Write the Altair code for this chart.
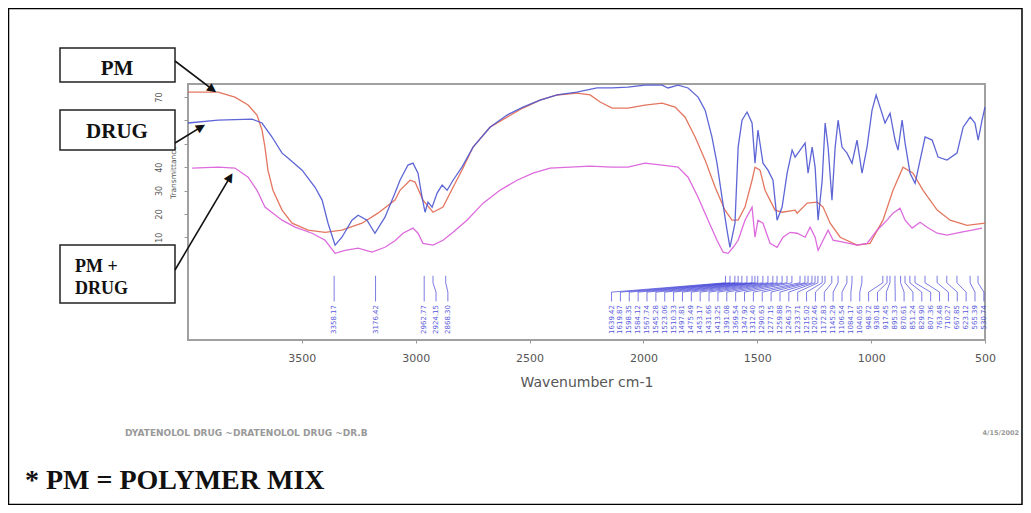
import math
import altair as alt
import numpy as np
import pandas as pd

# ---------------- spectra: wavenumber (cm-1) / transmittance (%) ----------------
pm_wn = [4000, 3868, 3794, 3736, 3697, 3675, 3662, 3649, 3627, 3587, 3543, 3473, 3398, 3324, 3236,
         3166, 3091, 3069, 3025, 3003, 2968, 2924, 2880, 2836, 2797, 2748, 2674, 2599, 2529, 2454,
         2379, 2292, 2234, 2190, 2138, 2068, 1993, 1918, 1861, 1817, 1773, 1729, 1685, 1642, 1611,
         1584, 1554, 1523, 1510, 1488, 1466, 1422, 1391, 1334, 1325, 1281, 1237, 1211, 1180, 1136,
         1062, 1005, 948, 904, 860, 816, 772, 710, 653, 579, 500]
pm_t = [72.1, 72.1, 70.0, 66.6, 62.3, 55.9, 48.6, 38.7, 30.1, 21.6, 16.0, 13.0, 12.1, 13.0, 16.0,
        20.3, 25.9, 30.1, 34.4, 33.6, 25.9, 20.7, 22.9, 31.4, 38.7, 48.6, 57.1, 61.4, 65.3, 68.7,
        70.9, 71.7, 70.9, 67.9, 65.3, 65.3, 66.6, 67.4, 65.7, 61.4, 52.9, 43.0, 31.4, 21.6, 17.3,
        17.3, 22.9, 34.4, 40.0, 38.7, 30.1, 21.6, 20.7, 21.6, 20.3, 24.6, 25.0, 22.9, 16.0, 10.0,
        6.6, 7.4, 17.3, 30.1, 40.0, 37.4, 30.1, 21.6, 17.3, 15.1, 16.0]

drug_wn = [4000, 3868, 3719, 3675, 3631, 3587, 3561, 3499, 3442, 3411, 3385, 3354, 3324, 3280, 3253,
           3214, 3179, 3135, 3091, 3069, 3034, 3012, 2990, 2972, 2959, 2946, 2928, 2906, 2884, 2862,
           2836, 2797, 2748, 2674, 2599, 2529, 2454, 2379, 2292, 2204, 2138, 2068, 1993, 1918, 1892,
           1848, 1804, 1760, 1729, 1699, 1677, 1655, 1633, 1620, 1598, 1584, 1567, 1545, 1523, 1510,
           1497, 1475, 1453, 1431, 1413, 1391, 1369, 1347, 1334, 1312, 1290, 1277, 1259, 1246, 1233,
           1215, 1202, 1189, 1172, 1158, 1145, 1128, 1106, 1084, 1062, 1040, 1018, 996, 978, 961,
           939, 917, 895, 882, 864, 851, 829, 807, 785, 763, 732, 706, 667, 623, 596,
           565, 544, 530, 513, 500]
drug_t = [58.9, 60.1, 60.6, 58.9, 52.9, 46.0, 43.9, 38.7, 31.4, 25.9, 16.0, 6.6, 10.0, 17.3, 19.4,
          17.3, 11.7, 18.6, 28.9, 34.4, 40.9, 41.7, 37.4, 27.1, 20.7, 25.0, 22.9, 28.9, 32.3, 30.1,
          34.4, 40.0, 48.6, 57.1, 62.3, 65.7, 68.7, 70.9, 72.1, 73.9, 73.9, 74.3, 75.1, 75.1, 73.9,
          75.1, 73.9, 70.0, 64.4, 52.9, 41.7, 27.1, 13.0, 5.7, 16.0, 48.6, 60.1, 63.6, 58.9, 41.7,
          55.9, 41.7, 38.7, 34.4, 17.3, 22.9, 37.4, 47.3, 44.3, 47.3, 50.3, 37.4, 48.6, 40.0, 17.3,
          34.4, 58.9, 48.6, 25.9, 48.6, 60.1, 48.6, 46.0, 41.7, 51.6, 37.4, 48.6, 64.4, 70.9, 65.7,
          58.9, 63.1, 51.6, 47.3, 60.1, 50.3, 37.4, 33.1, 43.0, 52.9, 51.6, 44.3, 43.0, 46.0, 57.1,
          61.4, 58.9, 51.6, 60.1, 65.7]

mix_wn = [3982, 3868, 3794, 3736, 3697, 3662, 3627, 3587, 3530, 3455, 3398, 3354, 3310, 3253, 3192,
          3135, 3091, 3056, 3012, 2990, 2968, 2924, 2880, 2836, 2775, 2704, 2630, 2555, 2485, 2410,
          2322, 2234, 2138, 2068, 1993, 1918, 1848, 1804, 1760, 1716, 1677, 1650, 1628, 1606, 1584,
          1554, 1523, 1510, 1497, 1475, 1444, 1413, 1387, 1356, 1325, 1290, 1268, 1246, 1233, 1211,
          1189, 1167, 1123, 1062, 1018, 974, 930, 904, 873, 851, 820, 785, 754, 710, 667,
          609, 557, 513]
mix_t = [39.6, 40.0, 39.6, 35.7, 30.1, 22.9, 20.3, 17.3, 14.3, 11.7, 8.7, 3.1, 4.4, 5.3, 3.6,
         5.7, 8.5, 11.7, 13.9, 11.7, 7.4, 6.6, 8.7, 12.1, 17.3, 24.6, 30.1, 34.4, 37.4, 39.6,
         40.0, 40.4, 40.0, 40.0, 41.7, 40.9, 40.0, 35.7, 27.1, 17.3, 8.7, 3.6, 3.1, 5.7, 8.7,
         17.3, 22.9, 10.0, 17.3, 16.0, 7.4, 5.7, 10.0, 12.1, 11.7, 10.0, 14.3, 10.0, 4.4, 8.7,
         13.0, 8.7, 7.9, 6.6, 7.4, 13.0, 17.3, 20.3, 22.4, 17.3, 13.9, 16.4, 14.3, 11.7, 10.9,
         12.1, 13.0, 13.9]

# ---------------- peak picks ----------------
left_peaks = [3358.17, 3176.42, 2962.77, 2924.15, 2868.30]
right_peaks = [1639.42, 1619.87, 1598.35, 1584.12, 1567.74, 1545.28, 1523.06, 1510.33, 1497.81,
               1475.49, 1453.17, 1431.66, 1413.25, 1391.08, 1369.54, 1347.92, 1312.40, 1290.63,
               1277.15, 1259.88, 1246.37, 1233.71, 1215.02, 1202.46, 1172.83, 1145.29, 1106.54,
               1084.17, 1040.65, 948.72, 930.18, 917.45, 895.33, 870.61, 851.24, 829.90, 807.36,
               763.48, 710.27, 667.85, 623.12, 565.39, 530.74]

x_ticks = [3500, 3000, 2500, 2000, 1500, 1000, 500]
y_ticks = [10, 20, 30, 40, 50, 60, 70]

series_names = ["PM", "DRUG", "PM + DRUG"]

# ---------------- styling ----------------
W, H = 797, 256
PM_COLOR = "#e0674f"
DRUG_COLOR = "#4d55d0"
MIX_COLOR = "#d95bd9"
PEAK_COLOR = "#3b3bd6"

xscale = alt.Scale(domain=[4000, 500], nice=False, zero=False)
yscale = alt.Scale(domain=[-34, 75.6], nice=False, zero=False)
xaxis = alt.Axis(values=x_ticks, format="d", title="Wavenumber cm-1", grid=False, domain=False,
                 tickSize=3, tickColor="#999", labelFont="DejaVu Sans", labelFontSize=11,
                 labelColor="#555", labelPadding=9, labelFlush=False,
                 titleFont="DejaVu Sans", titleFontSize=14, titleFontWeight="normal",
                 titleColor="#555", titleY=42, titleBaseline="middle")
yaxis = alt.Axis(values=y_ticks, format="d", title="Transmittance", grid=False, domain=False,
                 tickSize=4, tickColor="#999", labelAngle=270, labelAlign="center",
                 labelBaseline="bottom", labelPadding=21, labelFlush=False,
                 labelFont="DejaVu Sans", labelFontSize=8, labelColor="#555",
                 titleFont="DejaVu Sans", titleFontSize=7.5, titleFontWeight="normal",
                 titleColor="#555", titleAngle=270, titleX=-15, titleY=88,
                 titleAlign="center", titleBaseline="middle")


def spectrum(wn, t, color):
    df = pd.DataFrame({"wn": wn, "t": t, "i": range(len(wn))})
    return alt.Chart(df).mark_line(color=color, strokeWidth=1.3, opacity=0.9).encode(
        x=alt.X("wn:Q", scale=xscale, axis=xaxis),
        y=alt.Y("t:Q", scale=yscale, axis=yaxis),
        order="i:Q",
    )


# peak annotation geometry (label slots)
left_slots = []
for p in left_peaks:
    s = p if not left_slots else min(p, left_slots[-1] - 52)
    left_slots.append(s)
right_slots = list(np.linspace(2140, 505, len(right_peaks)))
peaks = left_peaks + right_peaks
slots = left_slots + right_slots

segs = []
for p, s in zip(peaks, slots):
    segs.append({"xa": p, "ya": -6.5, "xb": p, "yb": -9.5})
    segs.append({"xa": p, "ya": -9.5, "xb": s, "yb": -13.5})
    segs.append({"xa": s, "ya": -13.5, "xb": s, "yb": -17.5})
seg_df = pd.DataFrame(segs)
lab_df = pd.DataFrame({"slot": slots, "ty": [-19.0] * len(slots),
                       "label": [f"{p:.2f}" for p in peaks]})

seg_layer = alt.Chart(seg_df).mark_rule(color=PEAK_COLOR, strokeWidth=0.8, opacity=0.85).encode(
    x=alt.X("xa:Q", scale=xscale, axis=xaxis),
    y=alt.Y("ya:Q", scale=yscale, axis=yaxis),
    x2="xb:Q", y2="yb:Q",
)
lab_layer = alt.Chart(lab_df).mark_text(angle=270, align="right", baseline="middle", fontSize=7,
                                        font="DejaVu Sans", color=PEAK_COLOR, opacity=0.85).encode(
    x=alt.X("slot:Q", scale=xscale, axis=xaxis),
    y=alt.Y("ty:Q", scale=yscale, axis=yaxis),
    text="label:N",
)

# ---------------- page annotations (pixel positions relative to plot origin) ----------------
dummy = pd.DataFrame({"d": [0]})


def rect(x1, y1, x2, y2, **kw):
    return alt.Chart(dummy).mark_rect(**kw).encode(
        x=alt.value(x1), x2=alt.value(x2), y=alt.value(y1), y2=alt.value(y2))


def text(x, y, s, **kw):
    return alt.Chart(dummy).mark_text(text=s, **kw).encode(x=alt.value(x), y=alt.value(y))


def arrow(x1, y1, x2, y2):
    dx, dy = x2 - x1, y2 - y1
    ln = math.hypot(dx, dy)
    ang = math.degrees(math.atan2(dx, -dy)) % 360
    cx, cy = x2 - 5 * dx / ln, y2 - 5 * dy / ln
    line = alt.Chart(dummy).mark_rule(color="#111", strokeWidth=1.6).encode(
        x=alt.value(x1), y=alt.value(y1), x2=alt.value(cx), y2=alt.value(cy))
    head = text(cx, cy, "\u25B2", font="DejaVu Sans", fontSize=12, color="#111",
                align="center", baseline="middle", angle=ang)
    return [line, head]


frame = rect(-179.5, -75.5, 834, 420.5, fillOpacity=0, stroke="black", strokeWidth=1.5)

box_style = dict(fill="white", stroke="#222", strokeWidth=1.5)
boxes = [rect(-128, -36, -13, -2, **box_style),
         rect(-128, 26, -13, 66, **box_style),
         rect(-128, 161, -13, 219, **box_style)]

serif = dict(font="Liberation Serif", fontWeight="bold", color="#111")
box_texts = [
    text(-71, -9, series_names[0], fontSize=21, align="center", baseline="alphabetic", **serif),
    text(-71, 54, series_names[1], fontSize=21, align="center", baseline="alphabetic", **serif),
    text(-113, 188, "PM +", fontSize=18, align="left", baseline="alphabetic", **serif),
    text(-113, 210, "DRUG", fontSize=18, align="left", baseline="alphabetic", **serif),
]

arrows = (arrow(-13, -23, 29, 9) + arrow(-13, 59, 18, 40) + arrow(-13, 186, 45, 88))

foot = [
    text(-63, 349, "DYATENOLOL DRUG ~DRATENOLOL DRUG ~DR.B", fontSize=9, font="DejaVu Sans",
         fontWeight="bold", color="#999", align="left", baseline="middle"),
    text(831, 349, "4/15/2002", fontSize=6.5, font="DejaVu Sans", fontWeight="bold",
         color="#999", align="right", baseline="middle"),
    text(-163, 405, "* PM = POLYMER MIX", fontSize=28, align="left", baseline="alphabetic", **serif),
]

layers = ([frame,
           spectrum(pm_wn, pm_t, PM_COLOR),
           spectrum(mix_wn, mix_t, MIX_COLOR),
           spectrum(drug_wn, drug_t, DRUG_COLOR),
           seg_layer, lab_layer]
          + boxes + arrows + box_texts + foot)

chart = alt.layer(*layers).properties(
    width=W, height=H,
    padding={"left": 180, "top": 76, "right": 38, "bottom": 165},
    autosize=alt.AutoSizeParams(type="none"),
    background="white",
).configure_view(stroke="#a0a0a0", strokeWidth=2)

chart.save("out.html", embed_options={"renderer": "svg", "actions": False})
